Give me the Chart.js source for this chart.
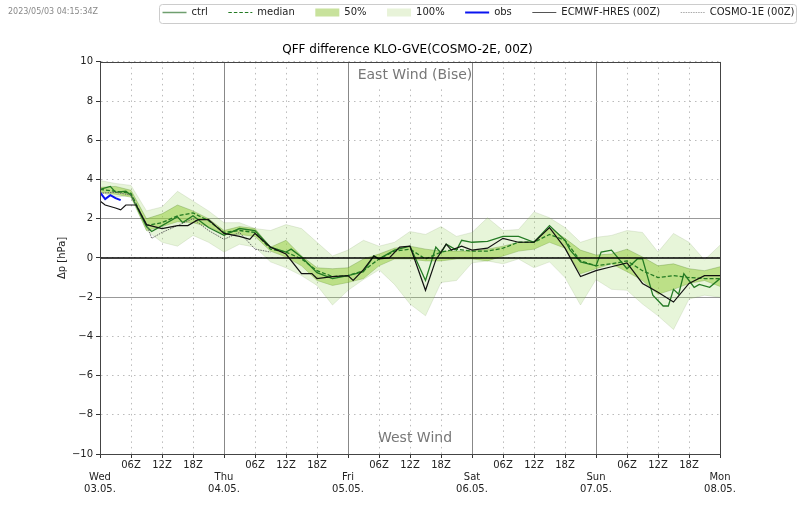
<!DOCTYPE html>
<html><head><meta charset="utf-8">
<style>html,body{margin:0;padding:0;background:#fff}canvas{display:block}</style>
<script src="https://cdn.jsdelivr.net/npm/chart.js@4"></script>
</head><body><div style="width:800px;height:509px"><canvas id="c"></canvas></div>
<script>
const hours=[0,3,6,9,12,15,18,21,24,27,30,33,36,39,42,45,48,51,54,57,60,63,66,69,72,75,78,81,84,87,90,93,96,99,102,105,108,111,114,117,120];
const upper100=[3.95,3.8,3.7,2.4,2.6,3.4,2.9,2.4,1.8,1.8,1.5,1.4,1.7,1.5,0.8,0.1,0.4,0.9,0.6,0.8,1.35,1.2,1.6,1.1,1.3,2.05,1.4,1.45,2.35,2.05,1.55,0.8,1.05,1.15,1.4,1.3,0.3,1.25,0.8,-0.1,0.65];
const lower100=[3.35,3.1,3.2,1.4,0.8,0.6,1.15,0.8,0.3,0.7,0.55,-0.2,-0.5,-0.9,-1.4,-2.4,-1.65,-1.1,-0.6,-1.35,-2.35,-2.95,-1.25,-1.15,-0.25,-0.15,-0.3,-0.05,-0.5,-0.2,-1.0,-2.4,-1.1,-1.6,-1.65,-2.35,-2.95,-3.65,-2.1,-1.9,-2.0];
const upper50=[3.6,3.65,3.45,2.0,2.25,2.7,2.4,2.0,1.4,1.6,1.5,0.55,0.9,0.1,-0.5,-0.55,-0.5,-0.05,0.2,0.5,0.6,0.45,0.35,0.35,0.35,0.45,0.6,0.8,0.85,1.55,1.0,0.4,0.15,0.2,0.45,0.05,-0.4,-0.3,-0.55,-0.65,-0.45];
const lower50=[3.35,3.25,3.1,1.4,1.6,1.85,1.8,1.6,1.2,1.2,1.1,0.35,0.05,-0.4,-1.15,-1.4,-1.25,-1.05,-0.4,-0.05,-0.05,-0.15,-0.15,-0.05,-0.05,-0.15,0.1,0.35,0.45,0.8,0.5,-0.8,-0.55,-0.3,-0.7,-1.15,-1.85,-1.6,-1.3,-1.15,-1.45];
const median=[3.5,3.4,3.3,1.65,1.8,2.15,2.3,1.9,1.3,1.4,1.3,0.45,0.3,-0.05,-0.65,-0.95,-0.9,-0.65,-0.05,0.35,0.45,-0.05,0.3,0.45,0.35,0.35,0.5,0.8,0.8,1.2,0.9,-0.15,-0.4,-0.3,-0.15,-0.65,-1.0,-0.9,-1.0,-1.05,-1.05];
const ctrlHours=[0,2,3,5,6,9,10,12,15,16,18,21,24,27,30,33,36,37,39,42,45,48,51,53,54,57,60,63,65,66,67,69,70,72,75,78,81,84,87,90,91,93,96,97,99,102,104,105,107,109,110,111,112,113,114,115,116,118,120];
const ctrl=[3.5,3.65,3.35,3.4,3.2,1.6,1.35,1.65,2.1,1.8,2.15,1.55,1.15,1.5,1.4,0.55,0.3,0.45,0.05,-0.75,-1.05,-0.9,-0.7,0.1,-0.05,0.4,0.6,-1.15,0.55,0.25,0.7,0.4,0.9,0.8,0.85,1.1,1.1,0.8,1.65,0.9,0.4,-0.2,-0.4,0.3,0.4,-0.55,-0.05,-0.05,-1.9,-2.45,-2.45,-1.6,-1.85,-0.8,-1.15,-1.5,-1.35,-1.5,-1.05];
const hresHours=[0,1,3,4,5,7,9,12,15,17,19,21,24,27,29,30,33,36,39,41,42,45,48,49,51,53,54,56,58,60,63,65,67,68,70,72,75,78,81,84,87,90,93,96,99,102,105,108,111,114,117,120];
const hres=[2.9,2.7,2.55,2.45,2.7,2.7,1.7,1.5,1.65,1.65,1.95,1.95,1.25,1.1,0.95,1.25,0.55,0.2,-0.8,-0.8,-1.05,-0.95,-0.9,-1.15,-0.6,0.1,-0.05,0,0.55,0.6,-1.65,-0.1,0.7,0.4,0.6,0.4,0.5,1.0,0.8,0.8,1.55,0.5,-0.95,-0.65,-0.45,-0.25,-1.3,-1.75,-2.25,-1.3,-0.9,-0.9];
const c1eHours=[0,3,6,9,10,12,15,18,21,24,27,30,33];
const cosmo1e=[3.3,3.35,3.2,1.75,1.0,1.3,1.65,2.0,1.4,0.95,1.3,0.45,0.3];
const obsHours=[0,1,2,3,4];
const obs=[3.35,3.0,3.2,3.05,2.95];
const zeroHours=[0,120];
const zeroLine=[0,0];
const yTicks=[-10,-8,-6,-4,-2,0,2,4,6,8,10];
const dayLabels={0:['Wed','03.05.'],24:['Thu','04.05.'],48:['Fri','05.05.'],72:['Sat','06.05.'],96:['Sun','07.05.'],120:['Mon','08.05.']};
const hourLabels={6:'06Z',12:'12Z',18:'18Z'};
const stamp='2023/05/03 04:15:34Z';
const eastText='East Wind (Bise)';
const westText='West Wind';

const pts=(xs,ys)=>xs.map((x,i)=>({x,y:ys[i]}));
const FONT='"DejaVu Sans"';
const fill100='rgba(160,215,105,0.25)',fill50='rgba(150,205,60,0.52)';
const edge100='rgba(110,140,80,0.16)',edge50='rgba(70,120,30,0.28)';
const base={pointRadius:0,tension:0,fill:false};
const datasets=[
 {...base,label:'100%',data:pts(hours,upper100),borderColor:edge100,borderWidth:1,backgroundColor:fill100,fill:'+1',order:9},
 {...base,label:'_l100',data:pts(hours,lower100),borderColor:edge100,borderWidth:1,order:9},
 {...base,label:'50%',data:pts(hours,upper50),borderColor:edge50,borderWidth:1,backgroundColor:fill50,fill:'+1',order:8},
 {...base,label:'_l50',data:pts(hours,lower50),borderColor:edge50,borderWidth:1,order:8},
 {...base,label:'ctrl',data:pts(ctrlHours,ctrl),borderColor:'#237a23',borderWidth:1.3,order:5},
 {...base,label:'median',data:pts(hours,median),borderColor:'#237a23',borderWidth:1.3,borderDash:[4,2],order:4},
 {...base,label:'obs',data:pts(obsHours,obs),borderColor:'#0a14f0',borderWidth:2,order:1},
 {...base,label:'ECMWF-HRES (00Z)',data:pts(hresHours,hres),borderColor:'#111',borderWidth:1.2,order:2},
 {...base,label:'COSMO-1E (00Z)',data:pts(c1eHours,cosmo1e),borderColor:'#666',borderWidth:1,borderDash:[1.5,1],order:3},
 {...base,label:'_zero',data:pts(zeroHours,zeroLine),borderColor:'#000',borderWidth:1.5,order:0}
];
const legendOrder=['ctrl','median','50%','100%','obs','ECMWF-HRES (00Z)','COSMO-1E (00Z)'];
const legendStyle={ 'ctrl':{c:'#6f9f6f',w:1.3},'median':{c:'#237a23',w:1.2,d:[3.5,2]},'50%':{c:'#c8e29c',rect:1},'100%':{c:'#e8f3d9',rect:1},'obs':{c:'#0a14f0',w:2},'ECMWF-HRES (00Z)':{c:'#555',w:1.2},'COSMO-1E (00Z)':{c:'#aaa',w:1,d:[1.5,1]}};

const overlay={id:'overlay',
 beforeDraw(ch){const g=ch.ctx;g.save();g.fillStyle='#fff';g.fillRect(0,0,800,509);
  g.strokeStyle='#ccc';g.lineWidth=1;g.beginPath();g.roundRect(159.5,4.5,637,19,3);g.stroke();
  g.font='8px '+FONT;g.fillStyle='#888';g.textBaseline='middle';g.textAlign='left';g.fillText(stamp,8,12);g.restore();},
 afterDatasetsDraw(ch){const g=ch.ctx,a=ch.chartArea,xs=ch.scales.x,ys=ch.scales.y;g.save();
  g.font='14px '+FONT;g.textAlign='center';g.textBaseline='middle';
  const cx=xs.getPixelForValue(60);
  const ey=ys.getPixelForValue(9.33),wy=ys.getPixelForValue(-9.2);
  g.fillStyle='#fff';g.fillRect(cx-58,ey-12,120,24);
  g.fillStyle='#777';g.fillText(eastText,cx+5,ey);
  g.fillText(westText,cx+5,wy);
  g.strokeStyle='#444';g.lineWidth=1;g.strokeRect(Math.round(a.left)+.5,Math.round(a.top)+.5,Math.round(a.width),Math.round(a.height));
  g.restore();}
};

new Chart(document.getElementById('c'),{type:'line',data:{datasets},plugins:[overlay],options:{
 responsive:true,maintainAspectRatio:false,animation:false,devicePixelRatio:1,
 layout:{padding:{left:0,right:-15,top:-13,bottom:0}},
 interaction:{mode:null},
 plugins:{
  tooltip:{enabled:false},
  legend:{display:true,position:'top',align:'end',fullSize:true,weight:3000,
   labels:{color:'#222',font:{family:FONT,size:10},usePointStyle:true,pointStyleWidth:24,boxHeight:8,padding:20.5,
    generateLabels(){return legendOrder.map(t=>{const s=legendStyle[t];return{text:t,fontColor:'#222',fillStyle:s.c,strokeStyle:s.rect?'transparent':s.c,lineWidth:s.rect?0:s.w,lineDash:s.d||[],pointStyle:s.rect?'rect':'line',hidden:false,datasetIndex:0};});}}},
  title:{display:true,text:'QFF difference KLO-GVE(COSMO-2E, 00Z)',color:'#000',font:{family:FONT,size:12,weight:'normal'},padding:{top:15.5,bottom:4.5}}
 },
 scales:{
  x:{type:'linear',min:0,max:120,
   afterBuildTicks(s){s.ticks=[];for(let h=0;h<=120;h+=6)s.ticks.push({value:h});},
   afterFit(s){s.height=55;},
   ticks:{autoSkip:false,maxRotation:0,minRotation:0,color:'#222',padding:1,font:{family:FONT,size:10,lineHeight:1.2},
    callback(v){const r=v%24;if(r===0)return['',...dayLabels[v]];return hourLabels[r];}},
   grid:{color(c){return c.tick&&c.tick.value%24===0?'#888':'#bbb';},lineWidth:1,tickColor:'#333',tickLength:4,tickBorderDash:[]},
   border:{color:'#444',dash(c){return c.tick&&c.tick.value%24===0?[]:[1.5,4];}}},
  y:{type:'linear',min:-10,max:10,
   afterBuildTicks(s){s.ticks=yTicks.map(value=>({value}));},
   afterFit(s){s.width=100;},
   title:{display:true,text:'Δp [hPa]',color:'#222',font:{family:FONT,size:10},padding:{top:56,bottom:0}},
   ticks:{color:'#222',padding:3,font:{family:FONT,size:10},callback(v){return String(v).replace('-','\u2212');}},
   grid:{color(c){const v=c.tick&&c.tick.value;return Math.abs(v)===2?'#999':'#bbb';},lineWidth:1,tickColor:'#333',tickLength:4,tickBorderDash:[]},
   border:{color:'#444',dash(c){const v=c.tick&&c.tick.value;return Math.abs(v)===2?[]:[1.5,4];}}},
  spacer:{type:'linear',position:'right',min:0,max:1,display:true,
   afterBuildTicks(s){s.ticks=[];},
   afterFit(s){s.width=95;},
   grid:{display:false},border:{display:false},ticks:{display:false}}
 }
}});
</script></body></html>
